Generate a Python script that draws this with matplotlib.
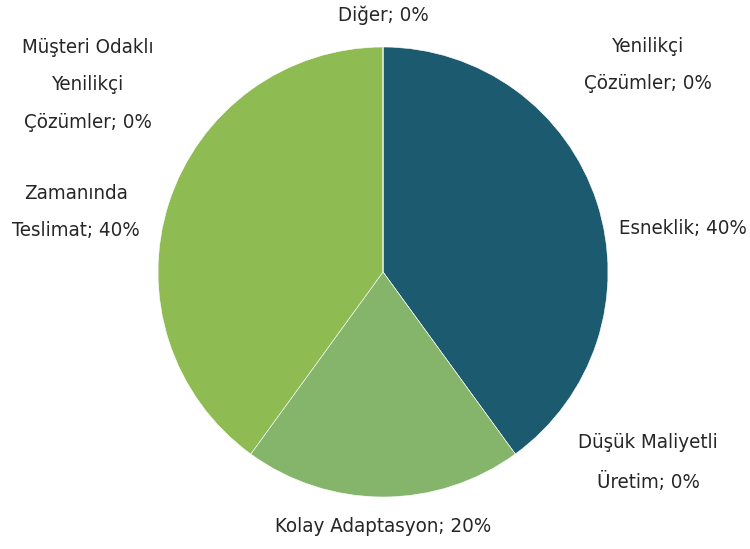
import matplotlib
matplotlib.use("Agg")
import matplotlib.pyplot as plt

# Slice order, clockwise from 12 o'clock
categories = [
    "Yenilikçi\nÇözümler",
    "Esneklik",
    "Düşük Maliyetli\nÜretim",
    "Kolay Adaptasyon",
    "Zamanında\nTeslimat",
    "Müşteri Odaklı\nYenilikçi\nÇözümler",
    "Diğer",
]
shares = [0, 40, 0, 20, 40, 0, 0]
colors = ["#4a7fa0", "#1b5a6f", "#6e9cb4", "#85b56b", "#8fbb53", "#a9c97e", "#c4d9a6"]

# label anchor points (figure pixels, from top-left)
label_pos = [
    (648, 65), (683, 228), (648, 462), (383, 527),
    (76, 212), (88, 85), (383, 15),
]

W, H = 750, 549
fig = plt.figure(figsize=(W / 100, H / 100), dpi=100)
ax = fig.add_axes([0, 0, 1, 1])

ax.pie(shares, colors=colors, startangle=90, counterclock=False,
       center=(383, H - 272), radius=225, frame=True,
       wedgeprops=dict(edgecolor="white", linewidth=0.4))
ax.set_xlim(0, W)
ax.set_ylim(0, H)
ax.set_aspect("equal")
ax.axis("off")

for name, v, (x, y) in zip(categories, shares, label_pos):
    ax.text(x, H - y, f"{name}; {v}%", ha="center", va="center",
            fontsize=14.7, linespacing=2.25, color="#262626",
            family=["DejaVu Sans"], fontstretch="condensed")

fig.savefig("out.png", dpi=100, facecolor="white")
